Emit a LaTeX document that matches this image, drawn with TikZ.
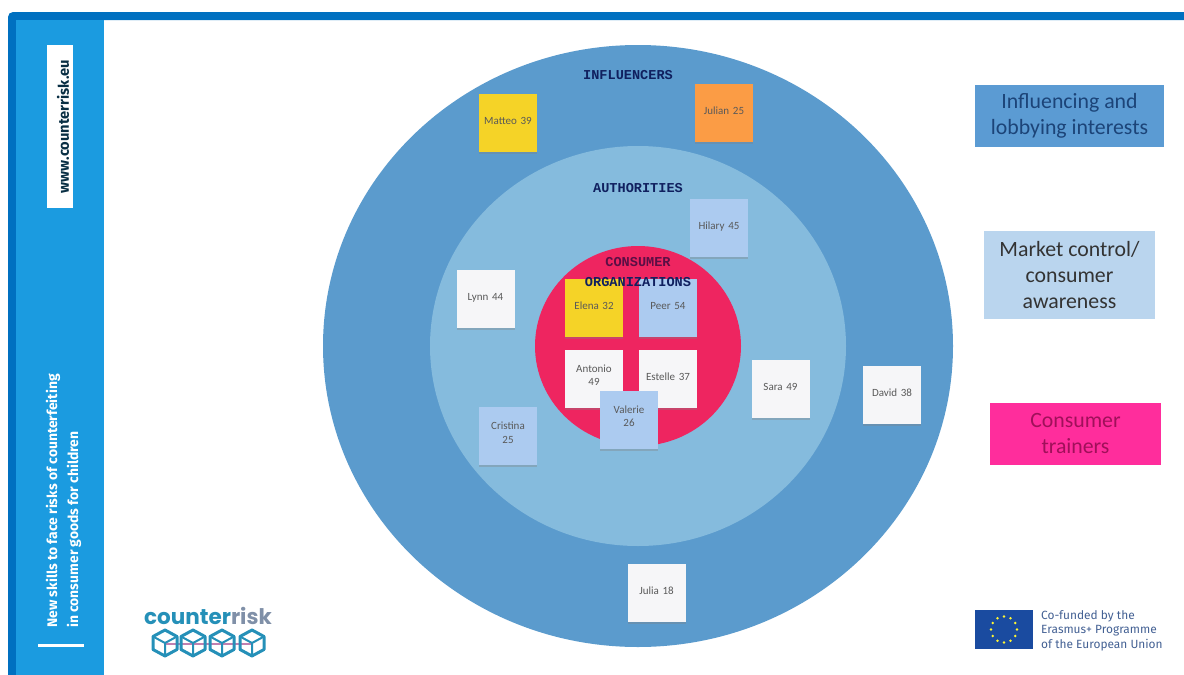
\documentclass[tikz,border=0pt]{standalone}
\usepackage{fontspec}
\setmainfont{Carlito}
\setsansfont{Fira Sans}
\newfontfamily\headfont{Liberation Mono}
\newfontfamily\logofont{Poppins}
\usetikzlibrary{shadows}

\definecolor{barblue}{HTML}{0070C0}
\definecolor{panelblue}{HTML}{1B9BE0}
\definecolor{outerblue}{HTML}{5B9BCD}
\definecolor{midblue}{HTML}{85BBDD}
\definecolor{innerred}{HTML}{EE2560}
\definecolor{headblue}{HTML}{10205F}
\definecolor{headdark}{HTML}{5A0F45}
\definecolor{stickyyellow}{HTML}{F5D327}
\definecolor{stickyorange}{HTML}{FB9C45}
\definecolor{stickyblue}{HTML}{ACCBF0}
\definecolor{stickywhite}{HTML}{F6F6F8}
\definecolor{legendblue}{HTML}{5B9BD3}
\definecolor{legendpale}{HTML}{BAD5EE}
\definecolor{legendpink}{HTML}{FF2D9C}
\definecolor{legendnavy}{HTML}{1C4478}
\definecolor{legendplum}{HTML}{A0105A}
\definecolor{logoblue}{HTML}{2590B8}
\definecolor{logogrey}{HTML}{8090A8}
\definecolor{logopink}{HTML}{C080B0}
\definecolor{eublue}{HTML}{1A4BA0}

\tikzset{
	sticky/.style={minimum size=58pt, inner sep=1pt, text width=54pt, align=center, text depth=4pt, font=\fontsize{11}{13.5}\selectfont, text=black!65, drop shadow={shadow xshift=0pt, shadow yshift=-2pt, opacity=.35}},
	twolines/.style={text depth=20pt},
	headlabel/.style={font=\headfont\bfseries\fontsize{13.6}{20}\selectfont, text=headblue, inner sep=0pt},
	legendbox/.style={inner sep=0pt, align=center, font=\fontsize{21.8}{26}\selectfont},
	sidetext/.style={rotate=90, inner sep=0pt, align=left, font=\sffamily\bfseries\fontsize{13.9}{21}\selectfont}
}

\begin{document}
\begin{tikzpicture}[x=1pt, y=-1pt]
	\useasboundingbox (0, 0) rectangle (1184, 675);

	\fill[barblue] (8, 675) [rounded corners=5pt] -- (8, 12) [sharp corners] -- (1184, 12) -- (1184, 20) -- (16, 20) -- (16, 675) -- cycle;
	\fill[panelblue] (16, 20) rectangle (104, 675);

	\node[fill=white, minimum width=26pt, minimum height=163pt, inner sep=0pt] (website) at (60, 126.5) {};
	\node[sidetext, text=black!70!panelblue, font=\sffamily\bfseries\fontsize{14.7}{21}\selectfont] at (63, 126.5) {www.counterrisk.eu};
	\node[sidetext, text=white, anchor=west] (tagline) at (63.5, 628) {New skills to face risks of counterfeiting\\in consumer goods for children};
	\fill[white] (38, 644) rectangle (84, 647);

	\fill[outerblue] (638, 346) ellipse (315 and 301);
	\fill[midblue] (638, 346) ellipse (208 and 200);
	\fill[innerred] (638, 346) ellipse (103 and 100);

	\node[headlabel] (influencers) at (628, 75) {INFLUENCERS};
	\node[headlabel] (authorities) at (638, 188) {AUTHORITIES};

	\node[sticky, fill=stickyyellow] (matteo) at (508, 123) {Matteo 39};
	\node[sticky, fill=stickyorange] (julian) at (724, 113) {Julian 25};
	\node[sticky, fill=stickyblue] (hilary) at (719, 228) {Hilary 45};
	\node[sticky, fill=stickywhite] (lynn) at (485.5, 298.5) {Lynn 44};
	\node[sticky, fill=stickyyellow] (elena) at (594, 308) {Elena 32};
	\node[sticky, fill=stickyblue] (peer) at (668, 308) {Peer 54};
	\node[sticky, twolines, fill=stickywhite] (antonio) at (594, 378.5) {Antonio\\49};
	\node[sticky, fill=stickywhite] (estelle) at (668, 379) {Estelle 37};
	\node[sticky, twolines, fill=stickyblue] (valerie) at (629, 419.5) {Valerie\\26};
	\node[sticky, twolines, fill=stickyblue] (cristina) at (508, 436) {Cristina\\25};
	\node[sticky, fill=stickywhite] (sara) at (780.5, 389) {Sara 49};
	\node[sticky, fill=stickywhite] (david) at (892, 395) {David 38};
	\node[sticky, fill=stickywhite] (julia) at (656.5, 592.5) {Julia 18};

	\node[headlabel, text=headdark] (consumer) at (638, 262) {CONSUMER};
	\node[headlabel] (organizations) at (638, 282) {ORGANIZATIONS};

	\node[legendbox, fill=legendblue, text=legendnavy, minimum width=189pt, minimum height=62pt] (influencing) at (1069.5, 116) {Influencing and\\lobbying interests};
	\node[legendbox, fill=legendpale, text=black!80, minimum width=171pt, minimum height=88pt] (market) at (1069.5, 275) {Market control/\\consumer\\awareness};
	\node[legendbox, fill=legendpink, text=legendplum, minimum width=171pt, minimum height=62pt] (trainers) at (1075.5, 434) {Consumer\\trainers};

	% logo
	\node[inner sep=0pt, font=\logofont\bfseries\fontsize{21.5}{24}\selectfont] (logo) at (208, 616) {\textcolor{logoblue}{counter}\textcolor{logogrey}{risk}};
	\draw[logopink, line width=1.5pt] (165, 644) -- (252, 644);
	\foreach \x in {165, 193, 222, 252} {
		\draw[logoblue, line width=3pt, line join=round] (\x, 630) -- (\x+12, 636.5) -- (\x+12, 649.5) -- (\x, 656) -- (\x-12, 649.5) -- (\x-12, 636.5) -- cycle;
		\draw[logoblue, line width=2pt] (\x-12, 636.5) -- (\x, 643) -- (\x+12, 636.5) (\x, 643) -- (\x, 656);
	}

	% flag
	\fill[eublue] (975, 610) rectangle (1033, 649);
	\foreach \a in {0, 30, ..., 330} {
		\fill[yellow!80!white] (1004, 629.5) ++(\a:13) circle (1.4);
	}
	\node[anchor=west, inner sep=0pt, align=left, text=eublue!60!gray, font=\sffamily\fontsize{11.9}{14.5}\selectfont] (funded) at (1041, 630.5) {Co-funded by the\\Erasmus+ Programme\\of the European Union};
\end{tikzpicture}
\end{document}
